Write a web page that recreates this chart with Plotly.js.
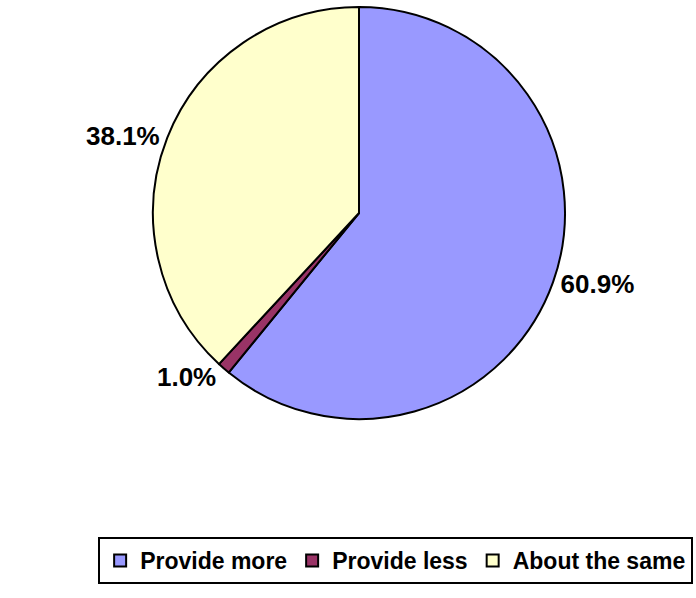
<!DOCTYPE html>
<html>
<head>
<meta charset="utf-8">
<script src="https://cdn.plot.ly/plotly-3.0.1.min.js"></script>
<style>html,body{margin:0;padding:0;background:#fff;}#chart{width:696px;height:598px;}</style>
</head>
<body>
<div id="chart"></div>
<script>
var categories = ["Provide more", "Provide less", "About the same"];
var values = [60.9, 1.0, 38.1];
var colors = ["#9999FF", "#993366", "#FFFFCC"];

var trace = {
  type: "pie",
  labels: categories,
  values: values,
  sort: false,
  direction: "clockwise",
  rotation: 0,
  marker: {colors: colors, line: {color: "#000000", width: 2}},
  textinfo: "percent",
  texttemplate: "%{percent:.1%}",
  textposition: "outside",
  outsidetextfont: {family: "Liberation Sans, Arial, sans-serif", size: 26, color: "#000000", weight: "bold"},
  hoverinfo: "none",
  domain: {x: [0.2198, 0.8118], y: [0.2993, 0.9883]}
};

var layout = {
  width: 696,
  height: 598,
  margin: {l: 0, r: 0, t: 0, b: 0},
  paper_bgcolor: "#ffffff",
  showlegend: true,
  legend: {
    orientation: "h",
    x: 0.141, xanchor: "left",
    y: 0.102, yanchor: "top",
    bordercolor: "#000000",
    borderwidth: 2,
    font: {family: "Liberation Sans, Arial, sans-serif", size: 23, color: "#000000", weight: "bold"},
    itemwidth: 30
  },
  font: {family: "Liberation Sans, Arial, sans-serif"}
};

Plotly.newPlot("chart", [trace], layout, {displayModeBar: false, staticPlot: true});
</script>
</body>
</html>
